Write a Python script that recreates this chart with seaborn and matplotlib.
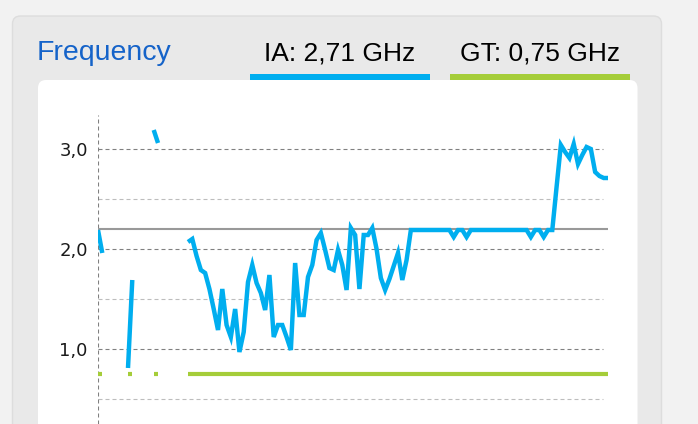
import numpy as np
import pandas as pd
import seaborn as sns
import matplotlib.pyplot as plt
from matplotlib.patches import FancyBboxPatch, Rectangle

nan = np.nan

# IA (CPU) clock per sample, GHz -- gaps are missing samples
ia_freq = [
    2.19, 1.96, nan, nan, nan, nan, nan, 0.81, 1.69, nan,
    nan, nan, nan, 3.19, 3.06, nan, nan, nan, nan, nan,
    nan, 2.07, 2.10, 1.93, 1.79, 1.76, 1.60, 1.40, 1.19, 1.60,
    1.24, 1.12, 1.40, 0.97, 1.17, 1.67, 1.84, 1.66, 1.56, 1.39,
    1.74, 1.12, 1.24, 1.24, 1.12, 0.99, 1.86, 1.34, 1.34, 1.72,
    1.84, 2.09, 2.16, 1.99, 1.81, 1.79, 1.99, 1.84, 1.59, 2.21,
    2.14, 1.60, 2.14, 2.14, 2.21, 2.00, 1.71, 1.59, 1.70, 1.83,
    1.96, 1.69, 1.89, 2.19, 2.19, 2.19, 2.19, 2.19, 2.19, 2.19,
    2.19, 2.19, 2.19, 2.12, 2.19, 2.19, 2.12, 2.19, 2.19, 2.19,
    2.19, 2.19, 2.19, 2.19, 2.19, 2.19, 2.19, 2.19, 2.19, 2.19,
    2.19, 2.12, 2.19, 2.19, 2.12, 2.19, 2.19, 2.62, 3.04, 2.97,
    2.91, 3.05, 2.85, 2.94, 3.02, 3.00, 2.77, 2.73, 2.71, 2.71,
]

# GT (graphics) clock per sample, GHz
gt_freq = [
    0.75, 0.75, nan, nan, nan, nan, nan, 0.75, 0.75, nan,
    nan, nan, nan, 0.75, 0.75, nan, nan, nan, nan, nan,
    nan, 0.75, 0.75, 0.75, 0.75, 0.75, 0.75, 0.75, 0.75, 0.75,
    0.75, 0.75, 0.75, 0.75, 0.75, 0.75, 0.75, 0.75, 0.75, 0.75,
    0.75, 0.75, 0.75, 0.75, 0.75, 0.75, 0.75, 0.75, 0.75, 0.75,
    0.75, 0.75, 0.75, 0.75, 0.75, 0.75, 0.75, 0.75, 0.75, 0.75,
    0.75, 0.75, 0.75, 0.75, 0.75, 0.75, 0.75, 0.75, 0.75, 0.75,
    0.75, 0.75, 0.75, 0.75, 0.75, 0.75, 0.75, 0.75, 0.75, 0.75,
    0.75, 0.75, 0.75, 0.75, 0.75, 0.75, 0.75, 0.75, 0.75, 0.75,
    0.75, 0.75, 0.75, 0.75, 0.75, 0.75, 0.75, 0.75, 0.75, 0.75,
    0.75, 0.75, 0.75, 0.75, 0.75, 0.75, 0.75, 0.75, 0.75, 0.75,
    0.75, 0.75, 0.75, 0.75, 0.75, 0.75, 0.75, 0.75, 0.75, 0.75,
]

base_clock = 2.2
title = "Frequency"
ia_label = "IA: 2,71 GHz"
gt_label = "GT: 0,75 GHz"
y_ticks = [1.0, 2.0, 3.0]
y_tick_labels = ["1,0", "2,0", "3,0"]
y_minor = [0.5, 1.5, 2.5]

BLUE = "#00aeef"
GREEN = "#a5cd39"
W, H = 698, 424


def to_segments(values):
    """Long frame with a segment id so gaps stay open"""
    df = pd.DataFrame({"sample": range(len(values)), "ghz": values})
    gap = df["ghz"].isna()
    df["seg"] = gap.cumsum()
    return df[~gap]


def px_box(x0, y0, x1, y1):
    # pixel box (top-left origin) -> inches, bottom-left origin
    return x0 / 100, (H - y1) / 100, (x1 - x0) / 100, (y1 - y0) / 100


sns.set_style("white")
plt.rcParams["font.family"] = ["DejaVu Sans"]

fig = plt.figure(figsize=(W / 100, H / 100), dpi=100)
fig.patch.set_facecolor("#f2f2f2")

# card + white panel + legend bars
x, y, w, h = px_box(12.5, 16, 661.5, 460)
fig.add_artist(FancyBboxPatch((x, y), w, h, boxstyle="round,pad=0,rounding_size=0.08",
                              transform=fig.dpi_scale_trans, facecolor="#e9e9e9",
                              edgecolor="#dddddd", lw=1, zorder=-10))
x, y, w, h = px_box(38, 80, 637.5, 460)
fig.add_artist(FancyBboxPatch((x, y), w, h, boxstyle="round,pad=0,rounding_size=0.08",
                              transform=fig.dpi_scale_trans, facecolor="white",
                              edgecolor="none", zorder=-9))
for (x0, x1), col in [((250, 430), BLUE), ((450, 630), GREEN)]:
    x, y, w, h = px_box(x0, 73.5, x1, 80)
    fig.add_artist(Rectangle((x, y), w, h, transform=fig.dpi_scale_trans,
                             facecolor=col, edgecolor="none", zorder=-8))

fig.text(36.5 / W, 1 - 60 / H, title, fontsize=20.5, color="#1563c9",
         family="Liberation Sans", va="baseline", ha="left")
fig.text(340 / W, 1 - 61 / H, ia_label, fontsize=19, color="black",
         family="Liberation Sans", va="baseline", ha="center")
fig.text(540 / W, 1 - 61 / H, gt_label, fontsize=19, color="black",
         family="Liberation Sans", va="baseline", ha="center")

ax = fig.add_axes([98 / W, 0, 510 / W, (H - 115) / H])
ax.patch.set_alpha(0)

dash = (0, (3.6, 2.7))
for v in y_ticks:
    ax.axhline(v, xmin=0, xmax=505 / 510, color="#808080", lw=0.8, ls=dash, zorder=1)
for v in y_minor:
    ax.axhline(v, xmin=0, xmax=505 / 510, color="#bdbdbd", lw=0.8, ls=dash, zorder=1)
ax.axvline(0, color="#808080", lw=0.8, ls=dash, zorder=1)
ax.axhline(base_clock, color="#999999", lw=1.5, zorder=2)

sns.lineplot(data=to_segments(gt_freq), x="sample", y="ghz", units="seg",
             estimator=None, color=GREEN, lw=3.0, ax=ax, zorder=3,
             solid_capstyle="butt", solid_joinstyle="miter")
sns.lineplot(data=to_segments(ia_freq), x="sample", y="ghz", units="seg",
             estimator=None, color=BLUE, lw=3.2, ax=ax, zorder=4,
             solid_capstyle="butt", solid_joinstyle="miter")

ax.set_xlim(0, len(ia_freq) - 1)
ax.set_ylim(0.25, 3.34)
ax.set_xticks([])
ax.set_yticks(y_ticks, y_tick_labels)
ax.tick_params(axis="y", length=3.6, width=0.8, color="#808080", pad=3.8,
               labelsize=13, labelcolor="#1a1a1a")
ax.set_xlabel("")
ax.set_ylabel("")
sns.despine(ax=ax, left=True, bottom=True)

fig.savefig("out.png", dpi=100)
